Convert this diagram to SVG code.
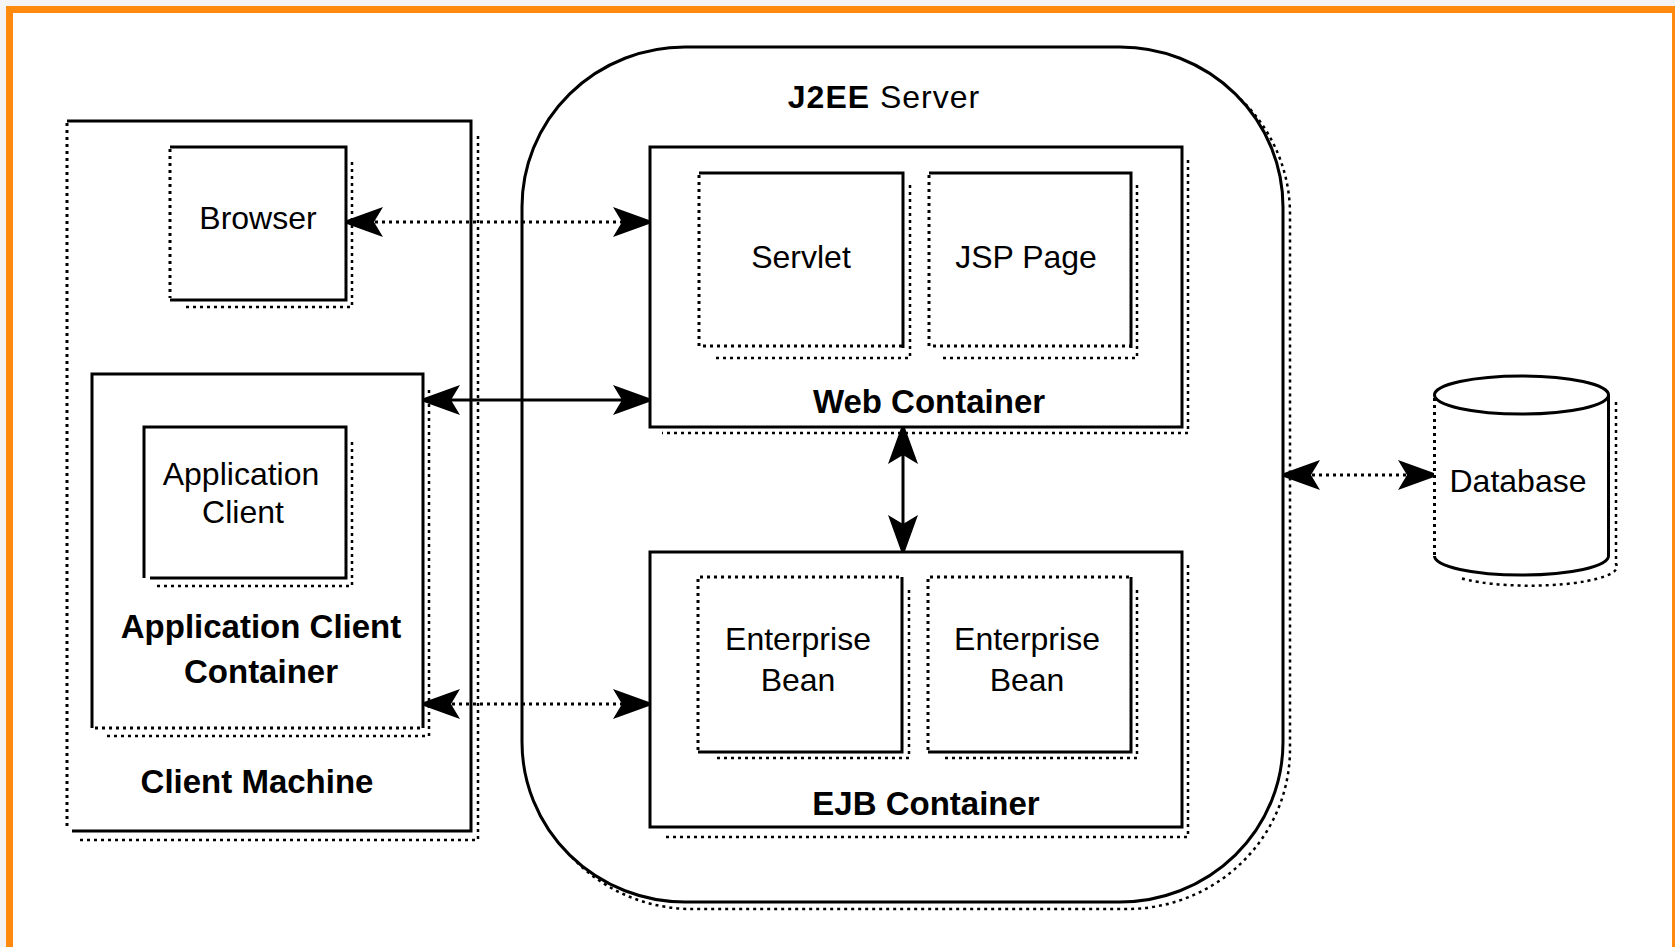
<svg xmlns="http://www.w3.org/2000/svg" width="1675" height="947" viewBox="0 0 1675 947">
<style>
.solid{fill:none;stroke:#000;stroke-width:3}
.fillw{fill:#fff;stroke:none}
.dot{fill:none;stroke:#000;stroke-width:3;stroke-dasharray:3 4}
.shadow{fill:none;stroke:#000;stroke-width:2.5;stroke-dasharray:3 4}
.lbl{font-family:"Liberation Sans",Arial,sans-serif;font-size:32px;fill:#000;text-anchor:middle}
.bold{font-weight:bold;font-size:33px}
.conn{stroke:#000;stroke-width:3;fill:none}
.conn.dotted{stroke-dasharray:3 4}
</style>
<defs>
<marker id="ah" viewBox="0 0 36 30" refX="36" refY="15" markerWidth="36" markerHeight="30" markerUnits="userSpaceOnUse" orient="auto-start-reverse">
<path d="M0,0 L36,13 L36,17 L0,30 L9,15 Z" fill="#000"/>
</marker>
</defs>
<rect x="0" y="0" width="1675" height="947" fill="#f4f4f4"/>
<rect x="9.5" y="9.5" width="1666" height="1000" fill="#fff" stroke="#ff8a0d" stroke-width="7"/>

<g id="client-machine">
<rect class="fillw" x="67" y="121" width="404" height="710"/>
<path class="shadow" d="M478,136 V840 H80"/>
<path class="solid" d="M67,121 H471 V831 H72"/>
<path class="dot" d="M67,123 V826"/>
<text class="lbl bold" x="257" y="793">Client Machine</text>
</g>

<g id="browser">
<rect class="fillw" x="170" y="147" width="176" height="153"/>
<path class="shadow" d="M352,162 V307 H184"/>
<path class="solid" d="M170,147 H346 V300 H170"/>
<path class="dot" d="M170,149 V298"/>
<text class="lbl" x="258" y="229">Browser</text>
</g>

<g id="app-client-container">
<rect class="fillw" x="92" y="374" width="331" height="354"/>
<path class="shadow" d="M429,390 V736 H104"/>
<path class="solid" d="M92,728 V374 H423 V728"/>
<path class="dot" d="M95,728 H423"/>
<text class="lbl bold" x="261" y="638">Application Client</text>
<text class="lbl bold" x="261" y="683">Container</text>
</g>

<g id="app-client">
<rect class="fillw" x="144" y="427" width="202" height="151"/>
<path class="shadow" d="M352,442 V586 H157"/>
<path class="solid" d="M144,578 V427 H346 V578 H150"/>
<text class="lbl" x="241" y="485">Application</text>
<text class="lbl" x="243" y="523">Client</text>
</g>

<g id="j2ee-server">
<rect class="shadow" x="529" y="54" width="761" height="855" rx="163" ry="160"/>
<rect x="522" y="47" width="761" height="855" rx="163" ry="160" fill="#fff" stroke="#000" stroke-width="3"/>
<text class="lbl" x="884" y="108" style="letter-spacing:1px"><tspan font-weight="bold">J2EE</tspan> Server</text>
</g>

<g id="web-container">
<path class="shadow" d="M1188,160 V433 H662"/>
<rect x="650" y="147" width="532" height="280" fill="#fff" stroke="#000" stroke-width="3"/>
<text class="lbl bold" x="929" y="413">Web Container</text>
</g>

<g id="servlet">
<path class="shadow" d="M910,185 V358 H713"/>
<path class="solid" d="M699,173 H903 V348"/>
<path class="dot" d="M699,175 V346 H903"/>
<text class="lbl" x="801" y="268">Servlet</text>
</g>

<g id="jsp-page">
<path class="shadow" d="M1137,185 V358 H942"/>
<path class="solid" d="M929,173 H1131 V348"/>
<path class="dot" d="M929,175 V346 H1131"/>
<text class="lbl" x="1026" y="268">JSP Page</text>
</g>

<g id="ejb-container">
<path class="shadow" d="M1188,565 V837 H662"/>
<rect x="650" y="552" width="532" height="275" fill="#fff" stroke="#000" stroke-width="3"/>
<text class="lbl bold" x="926" y="815">EJB Container</text>
</g>

<g id="enterprise-bean-1">
<path class="shadow" d="M909,590 V758 H713"/>
<path class="dot" d="M698,750 V577 H900"/>
<path class="solid" d="M902,577 V752 H698"/>
<text class="lbl" x="798" y="650">Enterprise</text>
<text class="lbl" x="798" y="691">Bean</text>
</g>

<g id="enterprise-bean-2">
<path class="shadow" d="M1137,590 V758 H942"/>
<path class="dot" d="M928,750 V577 H1129"/>
<path class="solid" d="M1131,577 V752 H928"/>
<text class="lbl" x="1027" y="650">Enterprise</text>
<text class="lbl" x="1027" y="691">Bean</text>
</g>

<g id="database">
<path class="shadow" d="M1616,402 V564 A87,19 0 0 1 1460,578"/>
<path class="fillw" d="M1434.5,395 V556 A87,19 0 0 0 1608.5,556 V395 Z"/>
<path class="dot" d="M1434.5,398 V556"/>
<path class="solid" d="M1434.5,556 A87,19 0 0 0 1608.5,556 V395"/>
<ellipse class="solid" cx="1521.5" cy="395" rx="87" ry="19" fill="#fff"/>
<text class="lbl" x="1518" y="492">Database</text>
</g>

<g id="connectors">
<line class="conn dotted" x1="347" y1="222" x2="649" y2="222" marker-start="url(#ah)" marker-end="url(#ah)"/>
<line class="conn" x1="424" y1="400" x2="649" y2="400" marker-start="url(#ah)" marker-end="url(#ah)"/>
<line class="conn dotted" x1="424" y1="704" x2="649" y2="704" marker-start="url(#ah)" marker-end="url(#ah)"/>
<line class="conn" x1="903" y1="428" x2="903" y2="551" marker-start="url(#ah)" marker-end="url(#ah)"/>
<line class="conn dotted" x1="1284" y1="475" x2="1434" y2="475" marker-start="url(#ah)" marker-end="url(#ah)"/>
</g>
</svg>
